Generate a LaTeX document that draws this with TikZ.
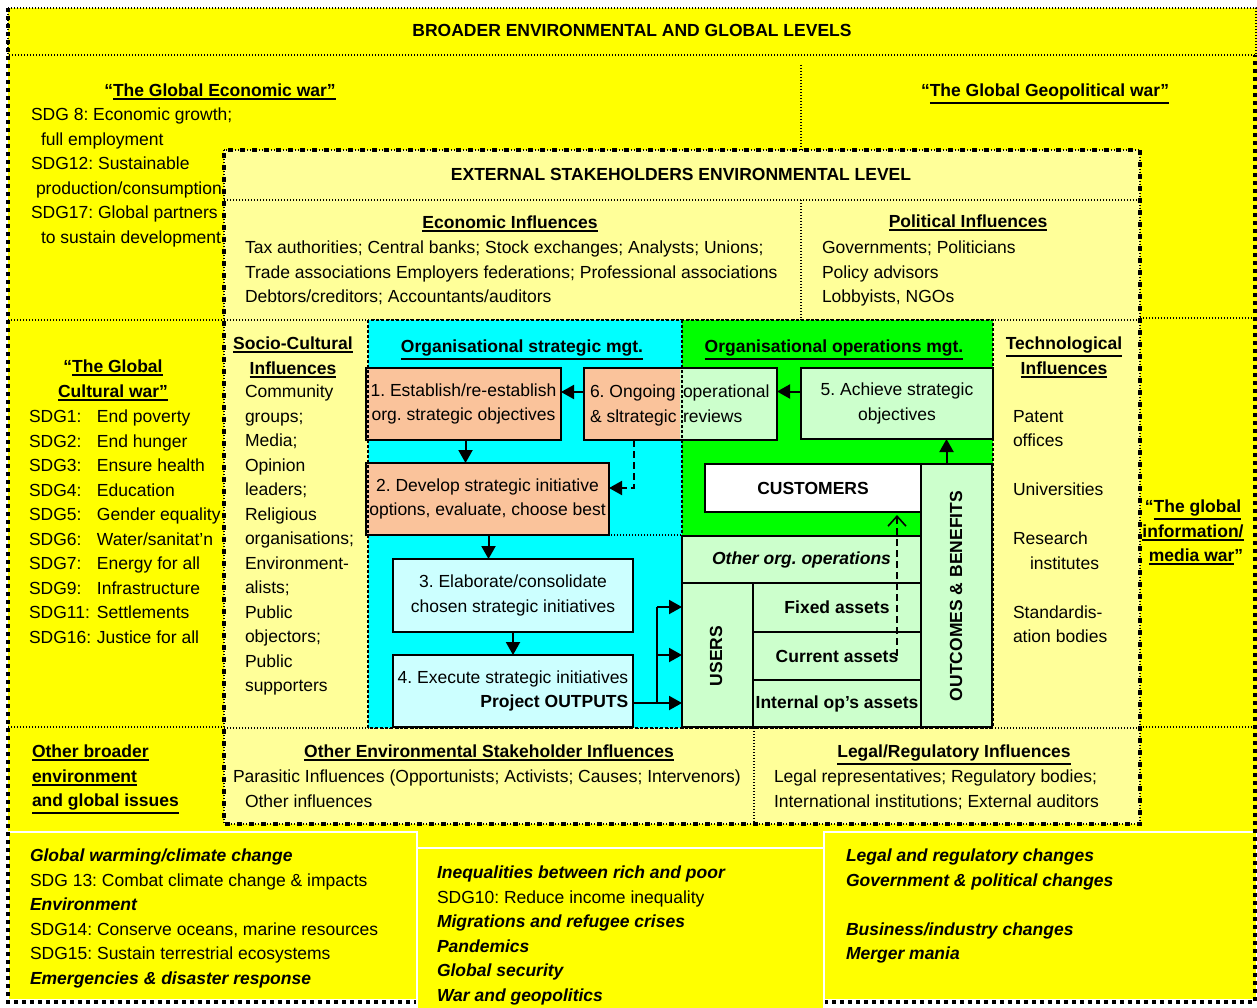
\documentclass[tikz,border=0pt]{standalone}
\usepackage{fontspec}
\setmainfont{Liberation Sans}
\usetikzlibrary{arrows.meta}
\definecolor{yel}{HTML}{FFFF00}
\definecolor{lyel}{HTML}{FFFF99}
\definecolor{cyn}{HTML}{00FFFF}
\definecolor{grn}{HTML}{00FF00}
\definecolor{lgrn}{HTML}{CCFFCC}
\definecolor{lcyn}{HTML}{CCFFFF}
\definecolor{peach}{HTML}{FAC39B}
\newcommand\fs{\fontsize{17.5}{24.5}\selectfont\frenchspacing}
\newcommand\ulx[1]{\leavevmode\vtop{\hbox{#1}\kern1.6pt\hrule height 1.9pt}}
\newcommand\bi[1]{\textbf{\textit{#1}}}
\begin{document}
\begin{tikzpicture}[x=1pt,y=-1pt,
 txt/.style={font=\fs, inner sep=0pt, outer sep=0pt, align=left, anchor=north west},
 ttl/.style={font=\fs\bfseries, inner sep=0pt, outer sep=0pt, align=center, anchor=north},
 box/.style={draw=black, line width=2pt, inner sep=0pt, outer sep=0pt, font=\fs, align=center},
 arr/.style={line width=2pt, -{Triangle[length=13pt,width=14pt]}},
 thickdash/.style={line width=4pt, dash pattern=on 4pt off 4pt},
 sqdash/.style={line width=4.5pt, dash pattern=on 5pt off 7pt, dash phase=-3pt},
 regdash/.style={line width=2.2pt, dash pattern=on 3pt off 2pt},
 thindot/.style={line width=1.3pt, dash pattern=on 1.3pt off 1.7pt},
]
\useasboundingbox (0,0) rectangle (1257,1008);
\fill[white] (0,0) rectangle (1257,1008);
\fill[yel] (8,8) rectangle (1257,1001);
% bottom boxes
\draw[white, line width=1.5pt, fill=yel] (8,832) rectangle (417,1000);
\draw[white, line width=1.5pt, fill=yel] (824,832) rectangle (1257,1000);
\draw[thickdash] (8,8) -- (8,1002) -- (417,1002);
\draw[thickdash] (824,1002) -- (1255,1002) -- (1255,55);
\draw[white, line width=1.5pt, fill=yel] (417,848) rectangle (824,1012);
% top banner and outer dividers
\draw[thindot] (8,8) rectangle (1256,55);
\draw[thindot] (801,65) -- (801,150);
\draw[thindot] (8,320) -- (224,320);
\draw[thindot] (1140,318) -- (1256,318);
\draw[thindot] (8,727) -- (224,727);
\draw[thindot] (1140,727) -- (1256,727);
% stakeholders box
\fill[lyel] (224,150) rectangle (1140,824);
\draw[thindot] (224,200) -- (1140,200);
\draw[thindot] (801,200) -- (801,320);
\draw[thindot] (224,320) -- (1140,320);
\draw[thindot] (224,728) -- (1140,728);
\draw[thindot] (754,728) -- (754,824);
% organisation region
\fill[cyn] (368,320) rectangle (682,728);
\fill[grn] (682,320) rectangle (993,535);
\draw[thindot] (368,535) -- (682,535);

% boxes
\node[box, fill=peach, minimum width=195pt, minimum height=72pt] (b1) at (463.5,404) {1. Establish/re-establish\\org. strategic objectives};
\fill[peach] (584,368) rectangle (680,440);
\fill[lgrn] (680,368) rectangle (777,440);
\node[box, minimum width=193pt, minimum height=72pt] (b6) at (680.5,404) {};
\node[txt] (b6l) at (590,385) {6. Ongoing\\\& sltrategic};
\node[txt] (b6r) at (683,385) {operational\\reviews};
\node[box, fill=lgrn, minimum width=192pt, minimum height=71pt] (b5) at (897,403.5) {5. Achieve strategic\\objectives};
\node[box, fill=peach, minimum width=243pt, minimum height=72pt] (b2) at (487.5,499) {2. Develop strategic initiative\\options, evaluate, choose best};
\node[box, fill=lcyn, minimum width=240pt, minimum height=73pt] (b3) at (513,595.5) {3. Elaborate/consolidate\\chosen strategic initiatives};
\node[box, fill=lcyn, minimum width=240pt, minimum height=72pt, align=right] (b4) at (513,691) {4. Execute strategic initiatives\\\textbf{Project OUTPUTS}};
\node[box, fill=white, minimum width=216pt, minimum height=48pt, font=\fs\bfseries] (cust) at (813,488) {CUSTOMERS};
\node[box, fill=lgrn, minimum width=71pt, minimum height=263pt] (outc) at (956.5,595.5) {};
\node[font=\fs\bfseries, rotate=90, inner sep=0pt] (outct) at (956,596) {OUTCOMES \& BENEFITS};
\node[box, fill=lgrn, minimum width=239pt, minimum height=47pt, font=\fs\bfseries\itshape] (other) at (801.5,559.5) {Other org. operations};
\node[box, fill=lgrn, minimum width=71pt, minimum height=144pt] (users) at (717.5,655) {};
\node[font=\fs\bfseries, rotate=90, inner sep=0pt] (userst) at (716,656) {USERS};
\node[box, fill=lgrn, minimum width=168pt, minimum height=49pt, font=\fs\bfseries] (fixed) at (837,607.5) {Fixed assets};
\node[box, fill=lgrn, minimum width=168pt, minimum height=48pt, font=\fs\bfseries] (curr) at (837,656) {Current assets};
\node[box, fill=lgrn, minimum width=168pt, minimum height=47pt, font=\fs\bfseries] (intl) at (837,703.5) {Internal op’s assets};

% region borders
\draw[regdash] (368,320) rectangle (993,728);
\draw[regdash] (682,320) -- (682,728);
\draw[thindot] (224,150) rectangle (1140,824);
\draw[sqdash] (224,150) rectangle (1140,824);

% arrows
\draw[arr] ([yshift=12pt]b6.west) -- ([yshift=12pt]b6.west -| b1.east);
\draw[arr] ([yshift=12pt]b5.west) -- ([yshift=12pt]b5.west -| b6.east);
\draw[arr] ([xshift=2pt]b1.south) -- ([xshift=2pt]b1.south |- b2.north);
\draw[arr, dash pattern=on 7pt off 4pt] ([xshift=-47pt]b6.south) |- ([yshift=11pt]b2.east);
\draw[arr] ([xshift=1pt]b2.south) -- ([xshift=1pt]b2.south |- b3.north);
\draw[arr] (b3.south) -- (b4.north);
\coordinate (br) at (657,703);
\coordinate (bm) at (657,655);
\coordinate (bt) at (657,607);
\draw[arr] ([yshift=-12pt]b4.east) -- ([yshift=-12pt]b4.east -| users.west);
\draw[line width=2pt] (br) -- (bt);
\draw[arr] (bt) -- (bt -| users.west);
\draw[arr] (bm) -- (bm -| users.west);
\draw[arr] ([xshift=-10pt]outc.north) -- ([xshift=-10pt]outc.north |- b5.south);
\coordinate (ds) at (897,656);
\draw[line width=1.6pt, dash pattern=on 7pt off 4pt, -{Straight Barb[length=10pt,width=18pt,line width=1.6pt]}] (ds) -- ([yshift=-3pt]ds |- cust.south);

% texts
\node[font=\fs\bfseries, anchor=base, inner sep=0pt] (t0) at (632,37) {BROADER ENVIRONMENTAL AND GLOBAL LEVELS};
\node[ttl] (t1) at (220,84) {“\ulx{The Global Economic war”}};
\node[ttl] (t2) at (1045,84) {“\ulx{The Global Geopolitical war”}};
\node[txt] (t3) at (31,108) {SDG 8: Economic growth;\\\hspace*{10pt}full employment\\SDG12: Sustainable\\\hspace*{5pt}production/consumption\\SDG17: Global partners\\\hspace*{10pt}to sustain development};
\node[font=\fs\bfseries, anchor=base, inner sep=0pt] (t4) at (681,181) {EXTERNAL STAKEHOLDERS ENVIRONMENTAL LEVEL};
\node[ttl] (t5) at (510,216) {\ulx{Economic Influences}};
\node[txt] (t6) at (245,241) {Tax authorities; Central banks; Stock exchanges; Analysts; Unions;\\Trade associations Employers federations; Professional associations\\Debtors/creditors; Accountants/auditors};
\node[ttl] (t7) at (968,215) {\ulx{Political Influences}};
\node[txt] (t8) at (822,241) {Governments; Politicians\\Policy advisors\\Lobbyists, NGOs};
\node[ttl] (t9) at (113,360) {“\ulx{The Global}\\\ulx{Cultural war”}};
\node[txt] (t10) at (29,410) {\makebox[68pt][l]{SDG1:}End poverty\\\makebox[68pt][l]{SDG2:}End hunger\\\makebox[68pt][l]{SDG3:}Ensure health\\\makebox[68pt][l]{SDG4:}Education\\\makebox[68pt][l]{SDG5:}Gender equality\\\makebox[68pt][l]{SDG6:}Water/sanitat’n\\\makebox[68pt][l]{SDG7:}Energy for all\\\makebox[68pt][l]{SDG9:}Infrastructure\\\makebox[68pt][l]{SDG11:}Settlements\\\makebox[68pt][l]{SDG16:}Justice for all};
\node[ttl] (t11) at (293,337) {\ulx{Socio-Cultural}\\\ulx{Influences}};
\node[txt] (t12) at (245,385) {Community\\groups;\\Media;\\Opinion\\leaders;\\Religious\\organisations;\\Environment-\\alists;\\Public\\objectors;\\Public\\supporters};
\node[ttl] (t13) at (522,340) {\ulx{Organisational strategic mgt.}};
\node[ttl] (t14) at (834,340) {\ulx{Organisational operations mgt.}};
\node[ttl] (t15) at (1064,337) {\ulx{Technological}\\\ulx{Influences}};
\node[txt] (t16) at (1013,410) {Patent\\offices\\~\\Universities\\~\\Research\\\hspace*{17pt}institutes\\~\\Standardis-\\ation bodies};
\node[ttl] (t17) at (1193,500) {“\ulx{The global}\\\ulx{information/}\\\hspace*{6pt}\ulx{media war}”};
\node[txt, font=\fs\bfseries] (t18) at (32,745) {\ulx{Other broader}\\\ulx{environment}\\\ulx{and global issues}};
\node[ttl] (t19) at (489,745) {\ulx{Other Environmental Stakeholder Influences}};
\node[txt] (t20) at (233,770) {Parasitic Influences (Opportunists; Activists; Causes; Intervenors)\\\hspace*{12pt}Other influences};
\node[ttl] (t21) at (954,745) {\ulx{Legal/Regulatory Influences}};
\node[txt] (t22) at (774,770) {Legal representatives; Regulatory bodies;\\International institutions; External auditors};
\node[txt] (t23) at (30,849) {\bi{Global warming/climate change}\\SDG 13: Combat climate change \& impacts\\\bi{Environment}\\SDG14: Conserve oceans, marine resources\\SDG15: Sustain terrestrial ecosystems\\\bi{Emergencies \& disaster response}};
\node[txt] (t24) at (437,866) {\bi{Inequalities between rich and poor}\\SDG10: Reduce income inequality\\\bi{Migrations and refugee crises}\\\bi{Pandemics}\\\bi{Global security}\\\bi{War and geopolitics}};
\node[txt] (t25) at (846,849) {\bi{Legal and regulatory changes}\\\bi{Government \& political changes}\\~\\\bi{Business/industry changes}\\\bi{Merger mania}};
\end{tikzpicture}
\end{document}
